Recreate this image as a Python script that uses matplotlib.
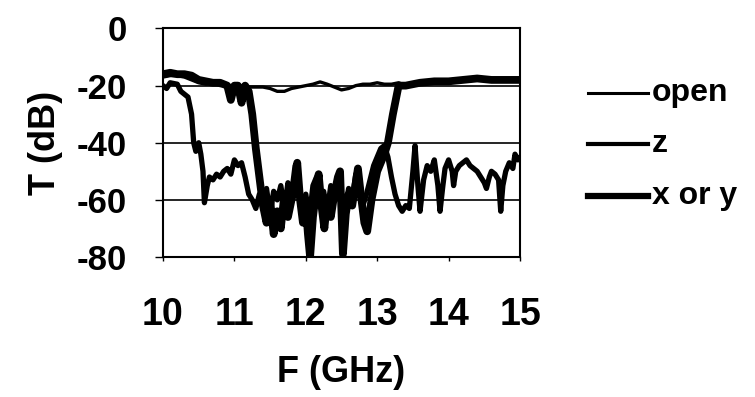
import numpy as np
import matplotlib
matplotlib.use('Agg')
import matplotlib.pyplot as plt
from matplotlib.lines import Line2D

plt.rcParams['font.family'] = ['Liberation Sans', 'DejaVu Sans']
plt.rcParams['font.weight'] = 'bold'

# open (thin)
F_open = [10.0, 10.1, 10.2, 10.3, 10.4, 10.5, 10.6, 10.7, 10.8, 10.9, 11.0, 11.2, 11.4,
          11.5, 11.6, 11.7, 11.8, 11.9, 12.0, 12.1, 12.2, 12.3, 12.4, 12.5, 12.6, 12.7,
          12.8, 12.9, 13.0, 13.1, 13.2, 13.3, 13.4, 13.5, 13.6, 13.8, 14.0, 14.2, 14.4,
          14.6, 14.8, 15.0]
T_open = [-17, -16.5, -16.5, -17, -18, -19, -19.5, -19, -20, -20, -20.5, -20.5, -20.5,
          -21, -22, -22, -21, -20.5, -20, -19.5, -18.7, -19.5, -20.5, -21.5, -21, -20,
          -19.5, -19.5, -19, -19.5, -19.5, -19, -20, -20, -19.5, -19, -18.5, -18, -17.5,
          -17.5, -17.5, -17.5]

# z (medium)
F_z = [10.0, 10.05, 10.1, 10.2, 10.25, 10.3, 10.35, 10.4, 10.43, 10.46, 10.5, 10.53,
       10.56, 10.58, 10.62, 10.65, 10.7, 10.75, 10.8, 10.85, 10.9, 10.95, 11.0, 11.05,
       11.1, 11.15, 11.2, 11.25, 11.3, 11.35, 11.4, 11.45, 11.5, 11.55, 11.6, 11.65,
       11.7, 11.75, 11.8, 11.85, 11.9, 11.95, 12.0, 12.05, 12.1, 12.15, 12.2, 12.25,
       12.3, 12.35, 12.4, 12.45, 12.5, 12.55, 12.6, 12.65, 12.7, 12.75, 12.8, 12.85,
       12.9, 12.95, 13.0, 13.05, 13.1, 13.15, 13.2, 13.25, 13.3, 13.35, 13.4, 13.45,
       13.5, 13.53, 13.57, 13.6, 13.65, 13.7, 13.75, 13.8, 13.85, 13.88, 13.92, 13.95,
       14.0, 14.05, 14.07, 14.1, 14.15, 14.2, 14.25, 14.3, 14.35, 14.4, 14.45, 14.5,
       14.53, 14.57, 14.6, 14.65, 14.7, 14.73, 14.76, 14.8, 14.85, 14.9, 14.93, 14.97,
       15.0]
T_z = [-20, -21, -19, -19.5, -22, -23, -24, -30, -40, -43, -40, -44,
       -50, -61, -55, -52, -53, -51, -52, -50, -49, -51, -46, -48,
       -47, -52, -58, -60, -63, -58, -62, -56, -65, -57, -60, -55,
       -63, -54, -58, -48, -55, -62, -58, -66, -55, -52, -60, -57,
       -64, -55, -60, -52, -58, -63, -56, -60, -51, -55, -62, -58,
       -53, -48, -45, -42, -41, -45, -52, -58, -62, -64, -62, -63,
       -50, -41, -55, -64, -53, -48, -50, -46, -55, -64, -55, -49,
       -46, -50, -55, -50, -48, -47, -46, -48, -49, -50, -52, -54,
       -56, -52, -50, -51, -53, -64, -55, -50, -47, -49, -44, -46,
       -45]

# x or y (thick)
F_xy = [10.0, 10.1, 10.2, 10.3, 10.4, 10.5, 10.6, 10.7, 10.8, 10.9, 10.95, 11.0, 11.05,
        11.1, 11.15, 11.2, 11.25, 11.3, 11.35, 11.4, 11.45, 11.5, 11.55, 11.6, 11.65,
        11.7, 11.75, 11.8, 11.85, 11.88, 11.92, 11.96, 12.0, 12.03, 12.06, 12.1, 12.15,
        12.18, 12.22, 12.26, 12.3, 12.35, 12.4, 12.45, 12.48, 12.52, 12.56, 12.6, 12.65,
        12.7, 12.73, 12.77, 12.82, 12.86, 12.92, 13.0, 13.1, 13.15, 13.22, 13.3, 13.4,
        13.5, 13.6, 13.8, 14.0, 14.2, 14.4, 14.6, 14.8, 15.0]
T_xy = [-16, -15.5, -16, -16, -16.5, -18, -18.5, -19, -19, -20, -25, -20, -20,
        -26, -20, -22, -30, -42, -52, -62, -68, -60, -72, -64, -70,
        -58, -66, -60, -55, -47, -60, -68, -62, -72, -80, -66, -56,
        -51, -62, -70, -60, -66, -58, -52, -50, -79, -65, -58, -62,
        -54, -49, -58, -68, -71, -60, -50, -44, -40, -30, -20, -20,
        -19.5, -19, -18.5, -18.5, -18, -17.5, -18, -18, -18]

x_ticks = [10, 11, 12, 13, 14, 15]
y_ticks = [0, -20, -40, -60, -80]
labels = ['open', 'z', 'x or y']
widths = [2.4, 3.8, 5.6]
leg_widths = [2.2, 3.0, 4.5]

W, H = 755, 397
fig = plt.figure(figsize=(W / 100, H / 100), dpi=100)
ax = fig.add_axes([163 / W, 1 - 257 / H, (520 - 163) / W, (257 - 28.5) / H])

series = [(F_open, T_open), (F_z, T_z), (F_xy, T_xy)]
for (f, t), lw in zip(series, widths):
    ax.plot(f, t, color='black', lw=lw, solid_joinstyle='round', solid_capstyle='round')

ax.set_xlim(10, 15)
ax.set_ylim(-80, 0)
ax.set_xticks(x_ticks)
ax.set_yticks(y_ticks)
ax.set_xticklabels([str(v) for v in x_ticks])
ax.set_yticklabels([str(v) for v in y_ticks])
ax.yaxis.grid(True, color='black', lw=1.2)
ax.set_axisbelow(True)
for s in ax.spines.values():
    s.set_linewidth(1.5)
ax.tick_params(axis='y', direction='out', length=6, width=1, pad=20, labelsize=25)
ax.tick_params(axis='x', direction='out', length=3, width=1, pad=26, labelsize=27)

ax.set_xlabel('F (GHz)', fontsize=26, fontweight='bold', labelpad=16)
ax.set_ylabel('T (dB)', fontsize=26, fontweight='bold', labelpad=10)

# legend drawn by hand to match the tight layout of the original
rows = [93, 144, 196]
for lab, lw, yy in zip(labels, leg_widths, rows):
    fig.add_artist(Line2D([588 / W, 648 / W], [1 - yy / H, 1 - yy / H],
                          color='black', lw=lw, transform=fig.transFigure))
    fig.text(652 / W, 1 - yy / H, lab, fontsize=23, fontweight='bold',
             va='center', ha='left')

fig.savefig('out.png', dpi=100)
